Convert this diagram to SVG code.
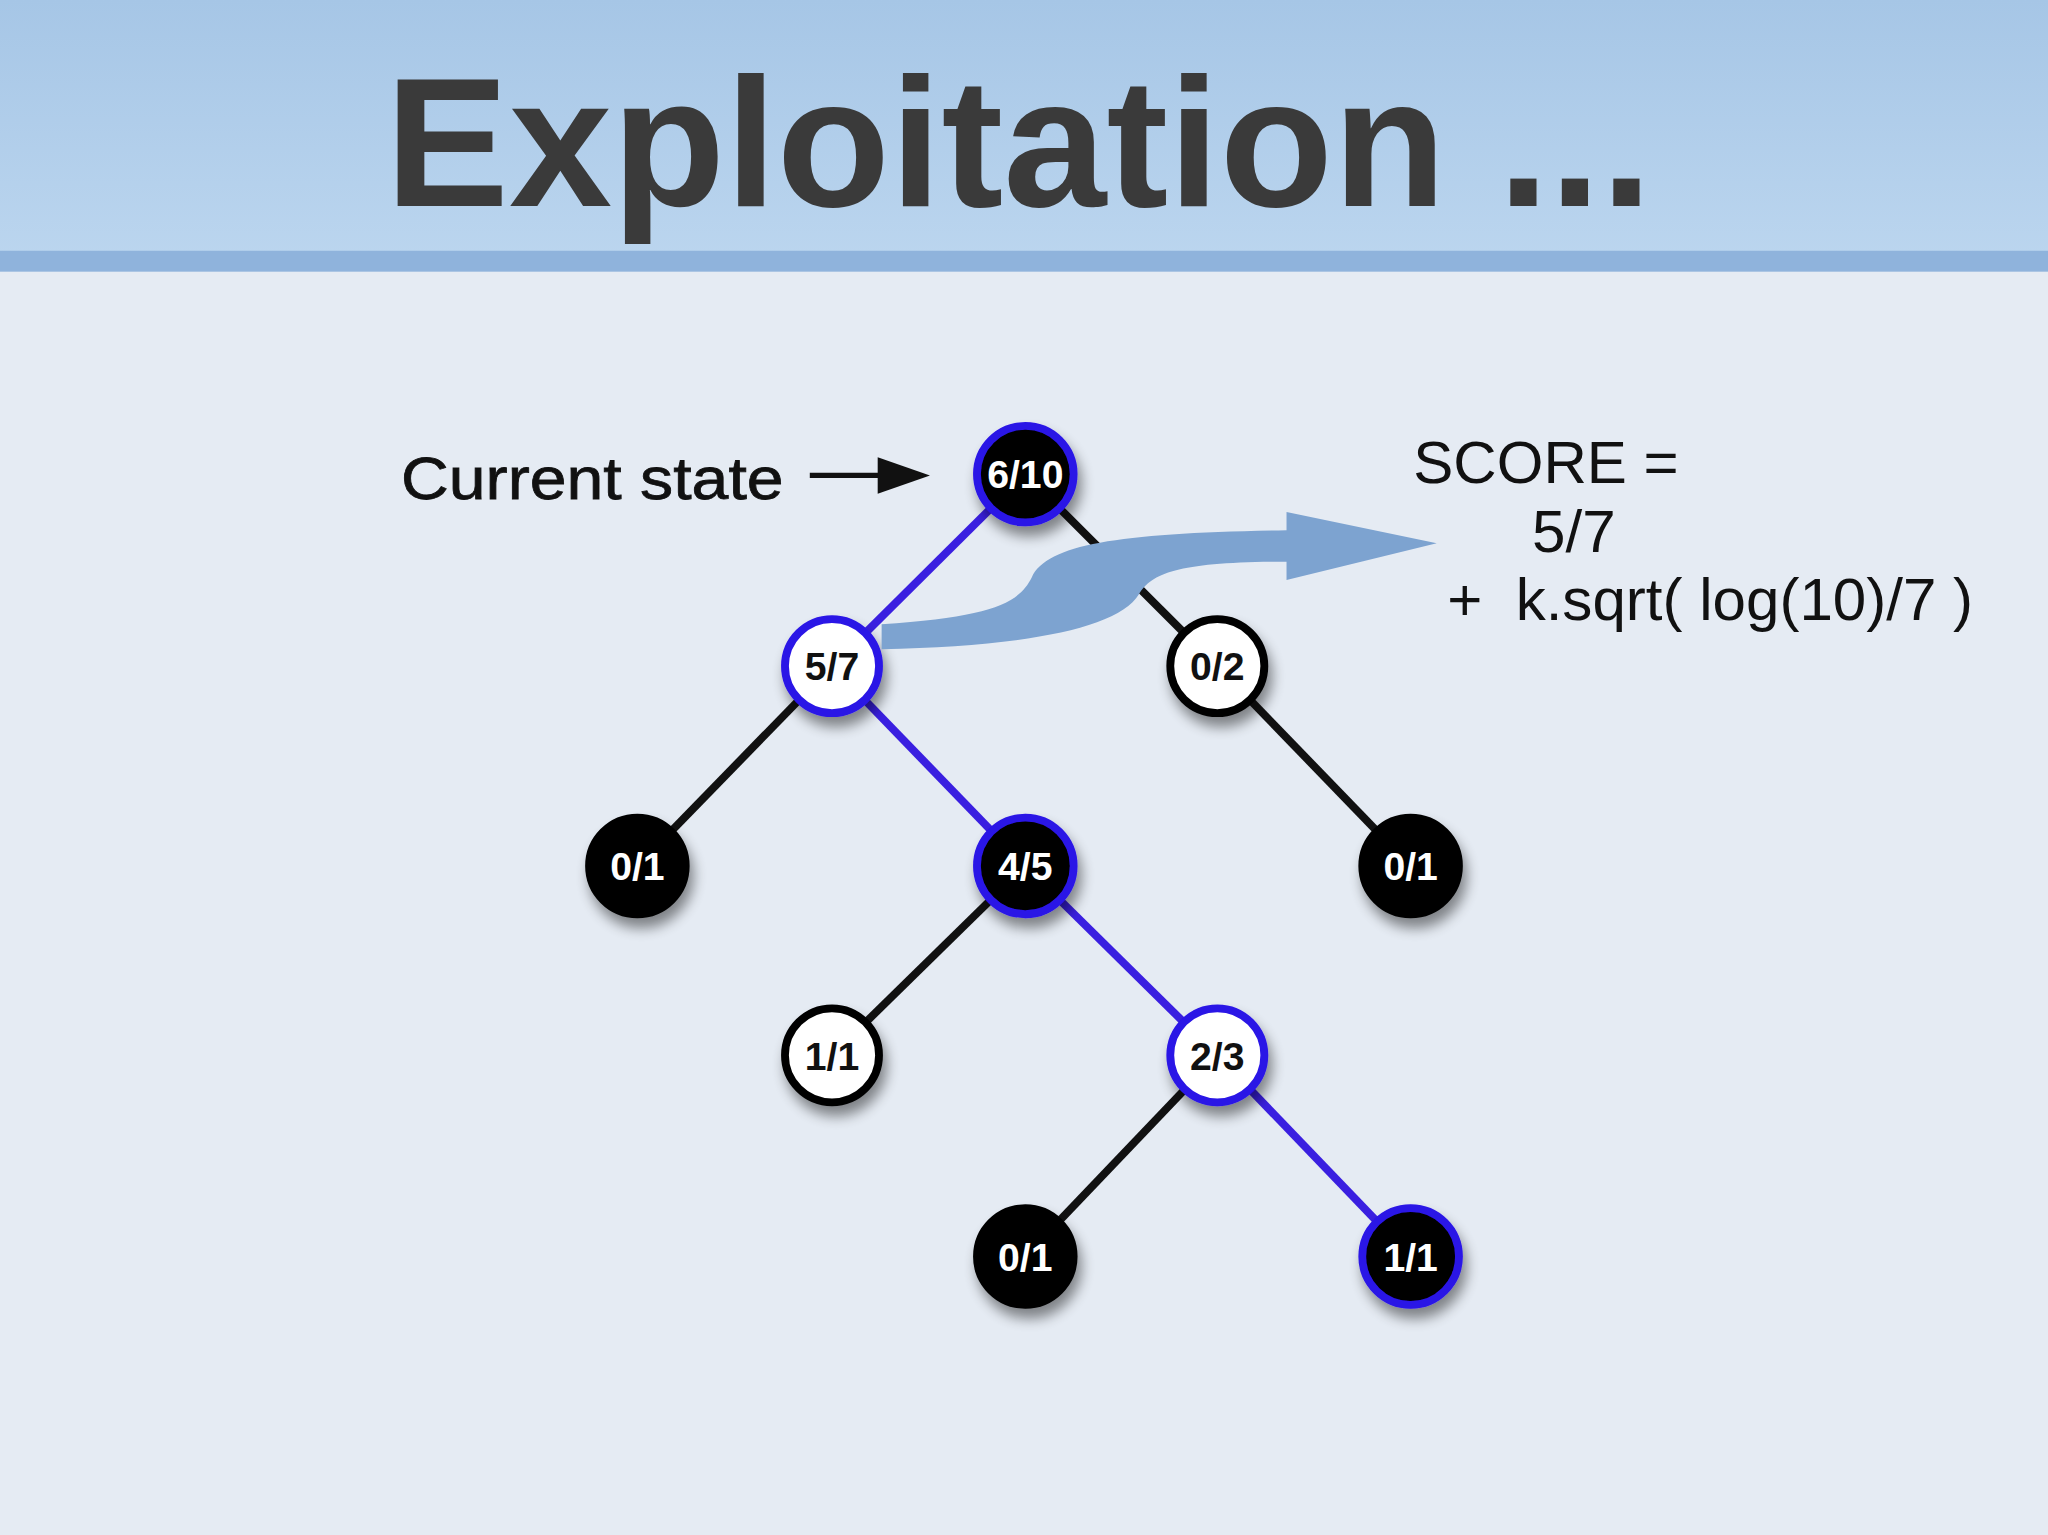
<svg xmlns="http://www.w3.org/2000/svg" width="2048" height="1535" viewBox="0 0 2048 1535">
<style>
.e{stroke-width:6;fill:none}
.b{stroke:#3a1fe0}
.k{stroke:#111}
.n{stroke-width:6;filter:url(#sh)}
.t{font-family:"Liberation Sans",Arial,sans-serif;font-weight:bold;font-size:30px;text-anchor:middle}
.s{font-family:"Liberation Sans",Arial,sans-serif;font-size:46px;fill:#111}
</style>
<defs>
<linearGradient id="hd" x1="0" y1="0" x2="0" y2="1"><stop offset="0" stop-color="#a6c6e6"/><stop offset="1" stop-color="#bcd6ef"/></linearGradient>
<filter id="sh" x="-50%" y="-50%" width="200%" height="200%"><feGaussianBlur in="SourceAlpha" stdDeviation="5"/><feOffset dx="3" dy="8"/><feComponentTransfer><feFuncA type="linear" slope="0.45"/></feComponentTransfer><feMerge><feMergeNode/><feMergeNode in="SourceGraphic"/></feMerge></filter>
</defs>
<rect width="2048" height="1535" fill="#e5ebf3"/>
<g transform="scale(1.30612)">
<rect width="1568" height="206" fill="url(#hd)"/>
<rect y="192" width="1568" height="16" fill="#8fb3dc"/>
<text x="780" y="158" text-anchor="middle" textLength="970" lengthAdjust="spacingAndGlyphs" font-family="Liberation Sans,Arial,sans-serif" font-weight="bold" font-size="140" fill="#3a3a3a">Exploitation ...</text>
<text x="307" y="382" textLength="293" lengthAdjust="spacingAndGlyphs" font-family="Liberation Sans,Arial,sans-serif" font-size="46" fill="#111" stroke="#111" stroke-width="0.6">Current state</text>
<g id="connectors">
<line x1="620" y1="364" x2="680" y2="364" stroke="#111" stroke-width="4"/>
<path d="M672,350 L712,364 L672,378 Z" fill="#111"/>
<line class="e b" x1="785" y1="363" x2="637" y2="510"/>
<line class="e k" x1="785" y1="363" x2="932" y2="510"/>
<line class="e k" x1="637" y1="510" x2="488" y2="663"/>
<line class="e b" x1="637" y1="510" x2="785" y2="663"/>
<line class="e k" x1="932" y1="510" x2="1080" y2="663"/>
<line class="e k" x1="785" y1="663" x2="637" y2="808"/>
<line class="e b" x1="785" y1="663" x2="932" y2="808"/>
<line class="e k" x1="932" y1="808" x2="785" y2="962"/>
<line class="e b" x1="932" y1="808" x2="1080" y2="962"/>
</g>
<g id="n610"><circle class="n" cx="785" cy="363" r="37" fill="#000" stroke="#2a14e6"/><text class="t" x="785" y="374" fill="#fff">6/10</text></g>
<g id="n57"><circle class="n" cx="637" cy="510" r="36" fill="#fff" stroke="#2a14e6"/><text class="t" x="637" y="521" fill="#111">5/7</text></g>
<g id="n02"><circle class="n" cx="932" cy="510" r="36" fill="#fff" stroke="#000"/><text class="t" x="932" y="521" fill="#111">0/2</text></g>
<g id="n01a"><circle class="n" cx="488" cy="663" r="37" fill="#000" stroke="#000"/><text class="t" x="488" y="674" fill="#fff">0/1</text></g>
<g id="n45"><circle class="n" cx="785" cy="663" r="37" fill="#000" stroke="#2a14e6"/><text class="t" x="785" y="674" fill="#fff">4/5</text></g>
<g id="n01b"><circle class="n" cx="1080" cy="663" r="37" fill="#000" stroke="#000"/><text class="t" x="1080" y="674" fill="#fff">0/1</text></g>
<g id="n11a"><circle class="n" cx="637" cy="808" r="36" fill="#fff" stroke="#000"/><text class="t" x="637" y="819" fill="#111">1/1</text></g>
<g id="n23"><circle class="n" cx="932" cy="808" r="36" fill="#fff" stroke="#2a14e6"/><text class="t" x="932" y="819" fill="#111">2/3</text></g>
<g id="n01c"><circle class="n" cx="785" cy="962" r="37" fill="#000" stroke="#000"/><text class="t" x="785" y="973" fill="#fff">0/1</text></g>
<g id="n11b"><circle class="n" cx="1080" cy="962" r="37" fill="#000" stroke="#2a14e6"/><text class="t" x="1080" y="973" fill="#fff">1/1</text></g>
<path d="M675,478 C760,472 780,462 790,442 C802,416 860,408 985,406 L985,392 L1100,416 L985,444 L985,430 C905,430 882,438 872,455 C856,482 780,495 675,497 Z" fill="#7da3d0"/>
<text class="s" x="1082" y="370">SCORE =</text>
<text class="s" x="1173" y="423">5/7</text>
<text class="s" x="1108" y="475" xml:space="preserve">+  k.sqrt( log(10)/7 )</text>
</g>
</svg>
